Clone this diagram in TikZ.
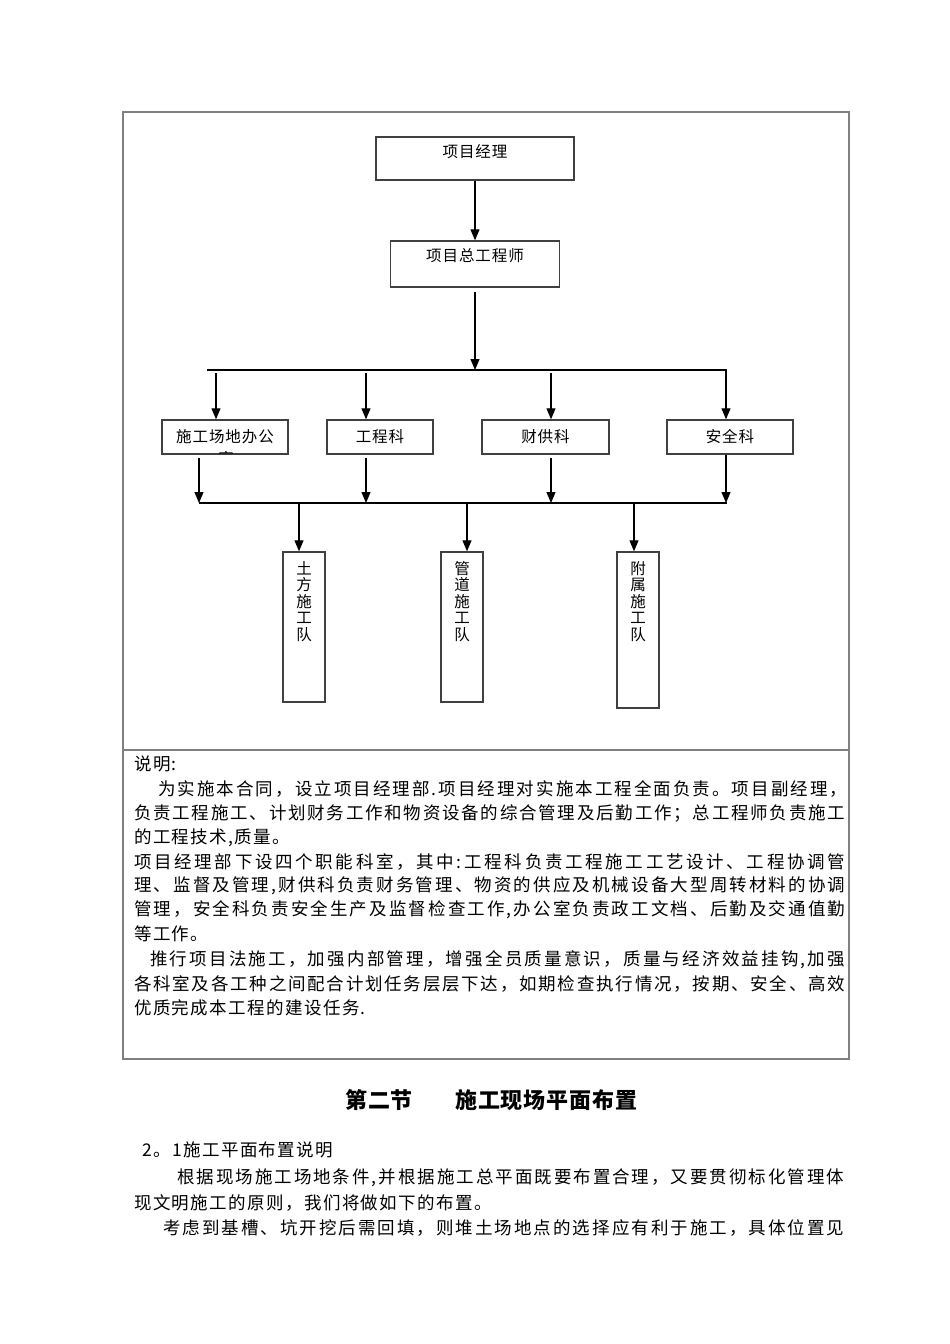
\documentclass[tikz,border=0pt]{standalone}
\usepackage{fontspec}
\setmainfont{Noto Sans CJK SC}
\newfontfamily\bodyf[LetterSpace=8]{Noto Sans CJK SC}
\newfontfamily\boxf[LetterSpace=6]{Noto Sans CJK SC}
\newfontfamily\titlef[LetterSpace=4]{Noto Sans CJK SC}
\usetikzlibrary{arrows.meta}
\makeatletter
\newcommand\jline[2]{\makebox[#1][s]{\@tfor\jc:=#2\do{\jc\hfil}\unskip}}
\makeatother
\tikzset{
  frame/.style={draw=black!50, line width=1.4pt},
  box/.style={draw=black!75, line width=1.4pt, fill=white, inner sep=0pt,
    font=\boxf\fontsize{15.5}{16.5}\selectfont},
  vtext/.style={anchor=north, inner sep=0pt, align=center,
    font=\boxf\fontsize{15.5}{16.5}\selectfont},
  arr/.style={draw=black, line width=1.1pt, -{Triangle[width=9pt,length=11pt]}},
  bus/.style={draw=black, line width=1.1pt},
  body/.style={anchor=west, inner sep=0pt, font=\bodyf\fontsize{17.5}{24}\selectfont},
  ttl/.style={anchor=west, inner sep=0pt, font=\titlef\bfseries\fontsize{22}{26}\selectfont},
}
\begin{document}
\begin{tikzpicture}[x=1pt,y=-1pt]
\useasboundingbox[fill=white] (0,0) rectangle (950,1344);

% outer frame
\draw[frame] (123,112) rectangle (849,1059);
\coordinate (divL) at (123,750);
\coordinate (divR) at (849,750);
\draw[frame] (divL) -- (divR);

% top boxes
\node[box, minimum width=198pt, minimum height=43pt, text height=12pt, text depth=13.6pt] (pm) at (475,158.5) {项目经理};
\node[box, minimum width=169pt, minimum height=46pt, text height=12pt, text depth=16.6pt] (ce) at (475,264) {项目总工程师};
\draw[arr] (pm.south) -- (ce.north);

% first bus
\coordinate (b1L) at (207,370);
\coordinate (b1R) at (727,370);
\coordinate (b1M) at (475,370);
\draw[bus] (b1L) -- (b1R);
\draw[arr, shorten <=4pt] (ce.south) -- (b1M);

% department boxes
\node[box, minimum width=126pt, minimum height=34pt] (d1) at (225,437) {施工场地办公};
\node[box, minimum width=106pt, minimum height=34pt] (d2) at (380,437) {工程科};
\node[box, minimum width=127pt, minimum height=34pt] (d3) at (545.5,437) {财供科};
\node[box, minimum width=126pt, minimum height=34pt] (d4) at (730,437) {安全科};
\begin{scope}
  \clip ([yshift=1pt]d1.south west) rectangle (d1.north east);
  \node[inner sep=0pt, font=\boxf\fontsize{15.5}{16.5}\selectfont] (d1b) at (226,458) {室};
\end{scope}

\coordinate (u1) at (216,370);
\coordinate (u2) at (366,370);
\coordinate (u3) at (551,370);
\coordinate (u4) at (726,370);
\draw[arr, shorten <=3pt] (u1) -- (u1 |- d1.north);
\draw[arr, shorten <=3pt] (u2) -- (u2 |- d2.north);
\draw[arr, shorten <=3pt] (u3) -- (u3 |- d3.north);
\draw[arr] (u4) -- (u4 |- d4.north);

% second bus
\coordinate (b2L) at (199,503);
\coordinate (b2R) at (727,503);
\draw[bus] (b2L) -- (b2R);
\coordinate (l1) at (199,503);
\coordinate (l2) at (366,503);
\coordinate (l3) at (551,503);
\coordinate (l4) at (726,503);
\draw[arr, shorten <=3pt] (l1 |- d1.south) -- (l1);
\draw[arr, shorten <=3pt] (l2 |- d2.south) -- (l2);
\draw[arr, shorten <=3pt] (l3 |- d3.south) -- (l3);
\draw[arr] (l4 |- d4.south) -- (l4);

% team boxes
\node[box, minimum width=42pt, minimum height=150pt] (t1) at (304,627) {};
\node[box, minimum width=42pt, minimum height=150pt] (t2) at (462,627) {};
\node[box, minimum width=42pt, minimum height=156pt] (t3) at (638,630) {};
\node[vtext] (t1l) at (304,561) {土\\方\\施\\工\\队};
\node[vtext] (t2l) at (462,561) {管\\道\\施\\工\\队};
\node[vtext] (t3l) at (638,561) {附\\属\\施\\工\\队};
\coordinate (m1) at (299,503);
\coordinate (m2) at (467,503);
\coordinate (m3) at (634,503);
\draw[arr] (m1) -- (m1 |- t1.north);
\draw[arr] (m2) -- (m2 |- t2.north);
\draw[arr] (m3) -- (m3 |- t3.north);

% explanation text
\node[body] (s0) at (134,764) {说明:};
\node[body] (s1) at (158,789) {\jline{689pt}{为实施本合同，设立项目经理部.项目经理对实施本工程全面负责。项目副经理，}};
\node[body] (s2) at (134,814) {\jline{711pt}{负责工程施工、计划财务工作和物资设备的综合管理及后勤工作；总工程师负责施工}};
\node[body] (s3) at (134,838) {的工程技术,质量。};
\node[body] (s4) at (134,862) {\jline{711pt}{项目经理部下设四个职能科室，其中:工程科负责工程施工工艺设计、工程协调管}};
\node[body] (s5) at (134,886) {\jline{711pt}{理、监督及管理,财供科负责财务管理、物资的供应及机械设备大型周转材料的协调}};
\node[body] (s6) at (134,910) {\jline{711pt}{管理，安全科负责安全生产及监督检查工作,办公室负责政工文档、后勤及交通值勤}};
\node[body] (s7) at (134,934) {等工作。};
\node[body] (s8) at (150,960) {\jline{695pt}{推行项目法施工，加强内部管理，增强全员质量意识，质量与经济效益挂钩,加强}};
\node[body] (s9) at (134,984) {\jline{711pt}{各科室及各工种之间配合计划任务层层下达，如期检查执行情况，按期、安全、高效}};
\node[body] (s10) at (134,1008) {优质完成本工程的建设任务.};

% section title
\node[ttl] (h1) at (345,1100) {第二节};
\node[ttl] (h2) at (455,1100) {施工现场平面布置};

% section text
\node[body] (p0) at (142,1150) {2。1施工平面布置说明};
\node[body] (p1) at (177,1178) {\jline{667pt}{根据现场施工场地条件,并根据施工总平面既要布置合理，又要贯彻标化管理体}};
\node[body] (p2) at (134,1203) {现文明施工的原则，我们将做如下的布置。};
\node[body] (p3) at (163,1228) {\jline{681pt}{考虑到基槽、坑开挖后需回填，则堆土场地点的选择应有利于施工，具体位置见}};
\end{tikzpicture}
\end{document}
